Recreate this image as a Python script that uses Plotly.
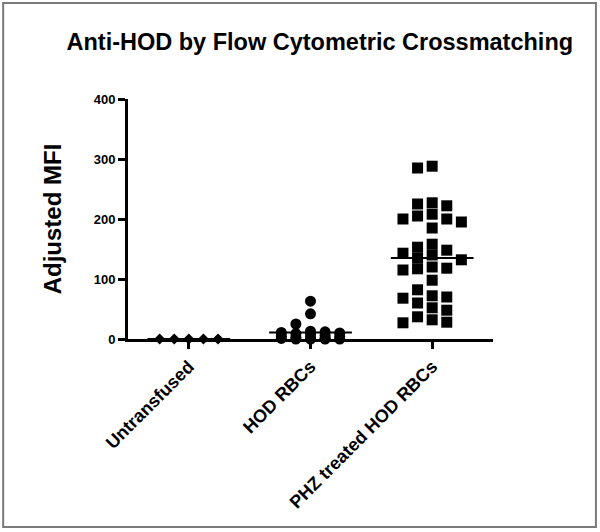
import plotly.graph_objects as go

# values
groups = ['Untransfused', 'HOD RBCs', 'PHZ treated HOD RBCs']
untransfused = [0, 0, 0, 0, 0]
hod_rbcs = [63, 42, 25, 13, 12, 11, 10, 9, 8, 6, 5, 4, 3, 2, 1, 1, 0, 0, 0, 0]
phz_hod_rbcs = [288, 285, 227, 225, 222, 208, 205, 200, 200, 195, 185,
                158, 153, 148, 143, 140, 135, 132, 120, 118, 117, 115,
                98, 82, 72, 70, 68, 60, 52, 48, 37, 32, 28, 27]
yticks = [0, 100, 200, 300, 400]

FONT = 'Arial, Liberation Sans, sans-serif'
COL_STEP = 0.12   # horizontal spacing of columns (category units)
MIN_GAP = 18      # vertical gap (data units) before two points collide


def column_scatter(values, max_cols=2):
    # simple GraphPad-like column scatter: put each point in the column
    # nearest the centre where it does not hit an earlier point
    order = [0]
    for k in range(1, max_cols + 1):
        order += [-k, k]
    placed = {c: [] for c in order}
    offsets = []
    for v in values:
        best, best_gap = None, -1
        for c in order:
            gap = min([abs(v - u) for u in placed[c]], default=1e9)
            if gap >= MIN_GAP:
                best = c
                break
            if gap > best_gap:
                best, best_gap = c, gap
        placed[best].append(v)
        offsets.append(best * COL_STEP)
    return offsets


series = [
    (untransfused, 'diamond', 8.5),
    (hod_rbcs, 'circle', 11),
    (phz_hod_rbcs, 'square', 11),
]

fig = go.Figure()
for i, (vals, sym, size) in enumerate(series):
    mean = sum(vals) / len(vals)
    fig.add_trace(go.Scatter(
        x=[i - 0.34, i + 0.34], y=[mean, mean], mode='lines',
        line=dict(color='black', width=2), showlegend=False, hoverinfo='skip'))
    xs = [i + off for off in column_scatter(vals)]
    fig.add_trace(go.Scatter(
        x=xs, y=vals, mode='markers', cliponaxis=False, showlegend=False,
        marker=dict(symbol=sym, size=size, color='black', line=dict(width=0))))

fig.update_layout(
    width=600, height=532,
    margin=dict(l=128, r=107, t=99, b=193),
    paper_bgcolor='white', plot_bgcolor='white',
    font=dict(family=FONT, color='black'),
    title=dict(text='Anti-HOD by Flow Cytometric Crossmatching',
               font=dict(size=23.5, weight='bold', color='black'),
               x=0.533, xref='container', xanchor='center',
               y=0.921, yref='container', yanchor='middle'),
    xaxis=dict(range=[-0.5, 2.5], tickvals=[0, 1, 2], ticktext=groups,
               tickangle=-45, showgrid=False, zeroline=False,
               showline=True, linecolor='black', linewidth=3,
               ticks='outside', ticklen=7, tickwidth=3, tickcolor='black',
               tickfont=dict(size=18, weight='bold')),
    yaxis=dict(range=[0, 400], tickvals=yticks, showgrid=False, zeroline=False,
               showline=True, linecolor='black', linewidth=3,
               ticks='outside', ticklen=7, tickwidth=3, tickcolor='black',
               tickfont=dict(size=13, weight='bold'),
               title=dict(text='Adjusted MFI', standoff=26,
                          font=dict(size=24, weight='bold'))),
    shapes=[dict(type='rect', xref='paper', yref='paper',
                 x0=-0.342, x1=1.282, y0=-0.783, y1=1.4,
                 line=dict(color='#7a7a7a', width=2))],
)

fig.write_html('out.html', config={'displayModeBar': False},
               post_script="document.body.style.margin='0';")
